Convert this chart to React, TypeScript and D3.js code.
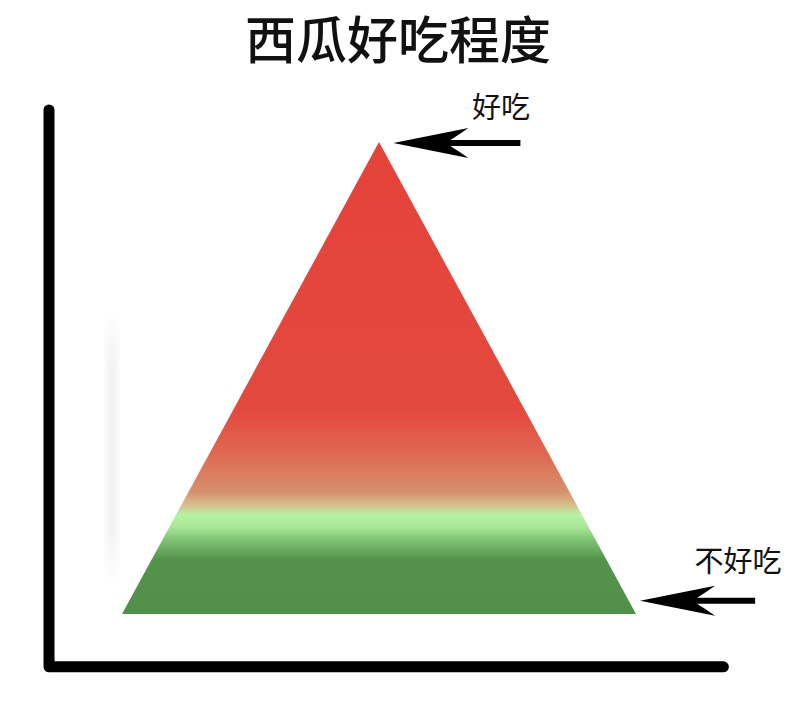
import React, { useEffect, useRef } from "react";
import * as d3 from "d3";

// Triangle outline in data units (x: 0..10, y: 0..10)
const triangleX = [0, 5, 10];
const triangleY = [0, 10, 0];

// Colour bands down the triangle: offset (0 = top, 1 = base) and colour
const bandOffsets = [0, 0.57, 0.66, 0.74, 0.766, 0.79, 0.815, 0.845, 0.885, 1];
const bandColors = ["#e5423a", "#e3493e", "#df6852", "#d58f6b", "#d8b98a", "#b6f2a3", "#a8e796", "#7dc073", "#55924b", "#528f4a"];

// Axis extents in data units
const xAxisExtent = [-1.42, 11.7];
const yAxisExtent = [-1.12, 10.68];

// Annotations: label, x/y value of arrow tip
const labels = ["好吃", "不好吃"];
const labelTipX = [5.28, 10.08];
const labelTipY = [9.98, 0.28];

const title = "西瓜好吃程度";

export default function App() {
  const svgRef = useRef<SVGSVGElement>(null);

  useEffect(() => {
    if (!svgRef.current) return;
    const svg = d3.select(svgRef.current);
    svg.selectAll("*").remove();

    const font = "'Noto Sans CJK SC', 'Noto Sans', sans-serif";

    const xScale = d3.scaleLinear().domain([0, 10]).range([122, 636]);
    const yScale = d3.scaleLinear().domain([0, 10]).range([614, 142]);

    const defs = svg.append("defs");
    const grad = defs
      .append("linearGradient")
      .attr("id", "melon")
      .attr("gradientUnits", "userSpaceOnUse")
      .attr("x1", 0)
      .attr("x2", 0)
      .attr("y1", yScale(10))
      .attr("y2", yScale(0));
    bandOffsets.forEach((o, i) => {
      grad.append("stop").attr("offset", o).attr("stop-color", bandColors[i]);
    });

    const shadow = defs
      .append("linearGradient")
      .attr("id", "ghost")
      .attr("x1", 0)
      .attr("x2", 0)
      .attr("y1", 0)
      .attr("y2", 1);
    shadow.append("stop").attr("offset", 0).attr("stop-color", "#f2f2f2").attr("stop-opacity", 0);
    shadow.append("stop").attr("offset", 0.2).attr("stop-color", "#f2f2f2").attr("stop-opacity", 1);
    shadow.append("stop").attr("offset", 0.8).attr("stop-color", "#f2f2f2").attr("stop-opacity", 1);
    shadow.append("stop").attr("offset", 1).attr("stop-color", "#f2f2f2").attr("stop-opacity", 0);

    defs
      .append("filter")
      .attr("id", "soft")
      .append("feGaussianBlur")
      .attr("stdDeviation", 0.7);

    defs
      .append("filter")
      .attr("id", "haze")
      .append("feGaussianBlur")
      .attr("stdDeviation", 3);

    // faint ghost strip left of the triangle
    svg
      .append("rect")
      .attr("x", 106)
      .attr("y", 310)
      .attr("width", 12)
      .attr("height", 275)
      .attr("fill", "url(#ghost)")
      .attr("filter", "url(#haze)");

    // Title
    svg
      .append("text")
      .attr("x", 398)
      .attr("y", 59)
      .attr("text-anchor", "middle")
      .style("font-family", font)
      .style("font-size", "51px")
      .style("font-weight", 500)
      .attr("fill", "#111")
      .text(title);

    // Triangle
    const pts = triangleX.map((x, i) => [xScale(x), yScale(triangleY[i])] as [number, number]);
    svg
      .append("path")
      .attr("d", d3.line()(pts) + "Z")
      .attr("fill", "url(#melon)");

    // Axes (thick hand-drawn L)
    const axis = d3.path();
    axis.moveTo(xScale(xAxisExtent[0]), yScale(yAxisExtent[1]));
    axis.lineTo(xScale(xAxisExtent[0]), yScale(yAxisExtent[0]));
    axis.lineTo(xScale(xAxisExtent[1]), yScale(yAxisExtent[0]));
    svg
      .append("path")
      .attr("d", axis.toString())
      .attr("fill", "none")
      .attr("stroke", "#000")
      .attr("stroke-width", 11)
      .attr("stroke-linecap", "round")
      .attr("stroke-linejoin", "round")
      .attr("filter", "url(#soft)");

    // Arrows + labels
    labels.forEach((label, i) => {
      const tx = xScale(labelTipX[i]);
      const ty = yScale(labelTipY[i]);
      const len = i === 0 ? 127 : 115;
      const g = svg.append("g").attr("filter", "url(#soft)");
      g.append("path")
        .attr(
          "d",
          `M${tx},${ty} L${tx + 75},${ty - 15} Q${tx + 62},${ty - 6} ${tx + 57},${ty - 3} L${tx + len},${ty - 3} L${tx + len},${ty + 3} L${tx + 57},${ty + 3} Q${tx + 62},${ty + 6} ${tx + 75},${ty + 15} Z`
        )
        .attr("fill", "#000");
      svg
        .append("text")
        .attr("x", i === 0 ? 501 : 738)
        .attr("y", i === 0 ? 118 : 572)
        .attr("text-anchor", "middle")
        .style("font-family", font)
        .style("font-size", "29px")
        .attr("fill", "#111")
        .text(label);
    });
  }, []);

  return (
    <svg
      ref={svgRef}
      width={800}
      height={710}
      style={{ position: "absolute", left: 0, top: 0, display: "block", background: "#fff" }}
    />
  );
}
